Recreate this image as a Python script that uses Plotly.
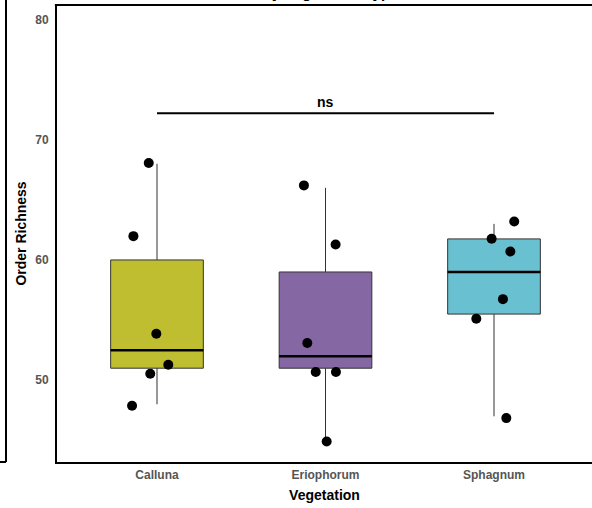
import plotly.graph_objects as go

# Vegetation groups and their colours
categories = ["Calluna", "Eriophorum", "Sphagnum"]
colors = ["#BFBE30", "#8567A4", "#68C0D0"]

# Box statistics (order richness)
q1 = [51.0, 51.0, 55.5]
median = [52.5, 52.0, 59.0]
q3 = [60.0, 59.0, 61.75]
lower = [48.0, 45.0, 47.0]
upper = [68.0, 66.0, 63.0]

# Individual samples (jittered horizontal offset, richness)
calluna_dx = [-0.049, -0.14, -0.004, 0.067, -0.04, -0.148]
calluna_y = [68.06, 61.98, 53.87, 51.29, 50.54, 47.88]
eriophorum_dx = [-0.128, 0.06, -0.108, -0.058, 0.062, 0.007]
eriophorum_y = [66.2, 61.29, 53.09, 50.68, 50.68, 44.91]
sphagnum_dx = [0.12, -0.014, 0.097, 0.053, -0.105, 0.073]
sphagnum_y = [63.2, 61.76, 60.7, 56.74, 55.11, 46.85]

points_dx = [calluna_dx, eriophorum_dx, sphagnum_dx]
points_y = [calluna_y, eriophorum_y, sphagnum_y]

# Comparison bracket
bracket_from, bracket_to = 1, 3
bracket_y = 72.2
bracket_label = "ns"

y_ticks = [50, 60, 70, 80]
title_text = "Order Richness by Vegetation Type"

FONT = "Liberation Sans, Arial, Helvetica, sans-serif"
BOX_W = 0.55
LEFT = 57
PLOT_W = 592 - LEFT
PX_PER_UNIT = 168.5
X_START = 1 - (157 - LEFT) / PX_PER_UNIT

fig = go.Figure()

for i, cat in enumerate(categories):
    xpos = i + 1
    fig.add_trace(go.Box(
        x=[xpos], q1=[q1[i]], median=[median[i]], q3=[q3[i]],
        lowerfence=[lower[i]], upperfence=[upper[i]],
        width=BOX_W, whiskerwidth=0, fillcolor=colors[i],
        line=dict(color="#333333", width=1), boxpoints=False,
        hoverinfo="skip", showlegend=False,
    ))
    # thick median bar
    fig.add_trace(go.Scatter(
        x=[xpos - BOX_W / 2, xpos + BOX_W / 2], y=[median[i], median[i]],
        mode="lines", line=dict(color="black", width=2.5),
        hoverinfo="skip", showlegend=False,
    ))

for i, cat in enumerate(categories):
    fig.add_trace(go.Scatter(
        x=[i + 1 + d for d in points_dx[i]], y=points_y[i],
        mode="markers", marker=dict(color="black", size=10),
        hoverinfo="skip", showlegend=False,
    ))

# significance bracket
fig.add_trace(go.Scatter(
    x=[bracket_from, bracket_to], y=[bracket_y, bracket_y],
    mode="lines", line=dict(color="black", width=2),
    hoverinfo="skip", showlegend=False,
))
fig.add_annotation(
    x=(bracket_from + bracket_to) / 2, y=bracket_y, text="<b>%s</b>" % bracket_label,
    showarrow=False, yanchor="bottom", yshift=1,
    font=dict(family=FONT, size=14, color="black"),
)

# title (top of the figure, mostly above the visible page)
fig.add_annotation(
    xref="paper", yref="paper", x=(272 - LEFT) / PLOT_W, y=1, yanchor="bottom", yshift=2,
    text="<b>%s</b>" % title_text, showarrow=False,
    font=dict(family=FONT, size=15, color="black"),
)

# panel frame top edge and neighbouring panel edge
fig.add_shape(type="line", xref="paper", yref="paper", x0=-0.004, x1=1.01, y0=1, y1=1,
              line=dict(color="black", width=2))
edge = (6 - LEFT) / PLOT_W
fig.add_shape(type="line", xref="paper", yref="paper",
              x0=edge, x1=edge, y0=0, y1=1.02,
              line=dict(color="black", width=2))
fig.add_shape(type="line", xref="paper", yref="paper",
              x0=-0.2, x1=edge, y0=0, y1=0,
              line=dict(color="black", width=2))

fig.update_layout(
    width=592, height=508,
    margin=dict(l=LEFT, r=0, t=5, b=46),
    plot_bgcolor="white", paper_bgcolor="white",
    font=dict(family=FONT),
    xaxis=dict(
        range=[X_START, X_START + PLOT_W / PX_PER_UNIT],
        tickvals=[1, 2, 3],
        ticktext=["<b>%s</b>" % c for c in categories],
        tickfont=dict(size=12, color="#555555"),
        showgrid=False, zeroline=False,
        showline=True, linecolor="black", linewidth=2,
        ticks="outside", ticklen=1, tickcolor="rgba(0,0,0,0)",
        title=dict(text="<b>Vegetation</b>", font=dict(size=14, color="black"), standoff=9),
    ),
    yaxis=dict(
        range=[43.2, 81.2],
        tickvals=y_ticks,
        ticktext=["<b>%d</b>" % v for v in y_ticks],
        tickfont=dict(size=12, color="#555555"),
        showgrid=False, zeroline=False,
        showline=True, linecolor="black", linewidth=2,
        ticks="outside", ticklen=4, tickcolor="rgba(0,0,0,0)",
        title=dict(text="<b>Order Richness</b>", font=dict(size=14, color="black"), standoff=5),
    ),
)

fig.write_html("out.html")
